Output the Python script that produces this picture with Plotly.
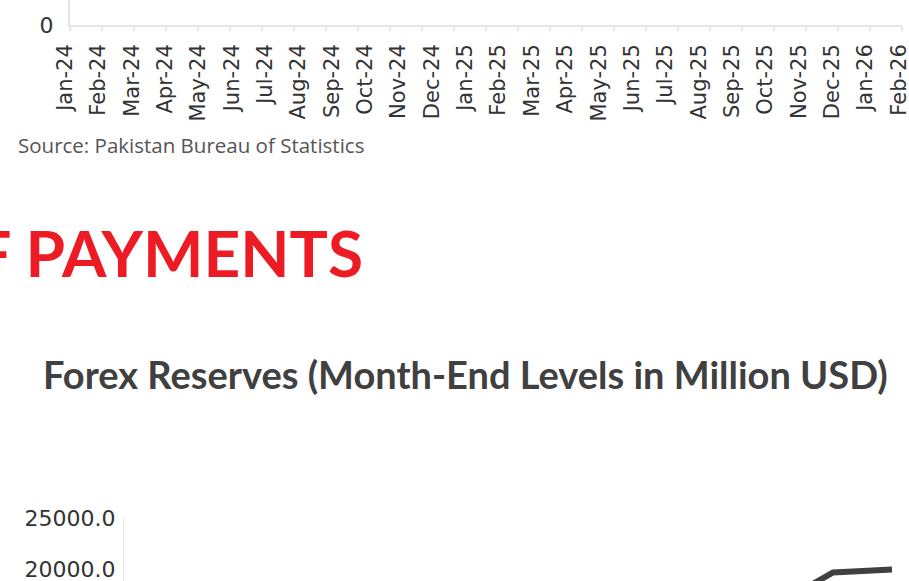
import plotly.graph_objects as go

W, H = 909, 581

months = ["Jan-24", "Feb-24", "Mar-24", "Apr-24", "May-24", "Jun-24", "Jul-24", "Aug-24",
          "Sep-24", "Oct-24", "Nov-24", "Dec-24", "Jan-25", "Feb-25", "Mar-25", "Apr-25",
          "May-25", "Jun-25", "Jul-25", "Aug-25", "Sep-25", "Oct-25", "Nov-25", "Dec-25",
          "Jan-26", "Feb-26"]

# upper chart: its values sit above the visible crop
upper_values = [None] * len(months)

# forex reserves, million USD (only the last months are inside the crop)
reserves = [None] * 22 + [18000, 19660, 19800, 19950]

reserve_ticks = [20000, 25000]


def px(p):
    return p / W


def py(p):
    return 1 - p / H


grey_line = "#e6e6e6"
label_font = dict(family="DejaVu Sans", size=21, color="#333333")
value_font = dict(family="DejaVu Sans", size=22, color="#333333")

fig = go.Figure()
fig.add_trace(go.Scatter(x=months, y=upper_values, mode="lines", xaxis="x", yaxis="y",
                         line=dict(color="#404040", width=6), hoverinfo="skip"))
fig.add_trace(go.Scatter(x=[], y=[], xaxis="x3", yaxis="y", hoverinfo="skip"))
fig.add_trace(go.Scatter(x=months, y=reserves, mode="lines", xaxis="x2", yaxis="y2",
                         line=dict(color="#404040", width=6)))

fig.update_layout(
    template="none",
    width=W, height=H,
    margin=dict(l=0, r=0, t=0, b=0, pad=0),
    paper_bgcolor="white", plot_bgcolor="rgba(0,0,0,0)",
    showlegend=False,
    # upper chart: category labels
    xaxis=dict(domain=[px(65), px(899)], type="category", categoryarray=months,
               range=[0, 25], anchor="y", showgrid=False, showline=False, zeroline=False,
               ticks="", tickangle=-90, tickfont=label_font, ticklabelstandoff=14,
               ticklabeloverflow="allow", automargin=False),
    # upper chart: baseline with tick marks between categories
    xaxis3=dict(domain=[px(70), px(902)], anchor="y", range=[0, 26],
                tickvals=list(range(27)), showticklabels=False, ticks="outside",
                ticklen=4, tickcolor=grey_line, tickwidth=2, showline=True,
                linecolor=grey_line, linewidth=2, showgrid=False, zeroline=False,
                automargin=False),
    yaxis=dict(domain=[py(25), 1], range=[0, 1], anchor="x3", tickvals=[0], ticktext=["0"],
               tickfont=value_font, showline=True, linecolor=grey_line, linewidth=2,
               showgrid=False, zeroline=False, ticks="", ticklabelstandoff=10,
               ticklabeloverflow="allow", automargin=False),
    # lower chart
    xaxis2=dict(domain=[px(124), px(902)], type="category", categoryarray=months,
                range=[-1.03, 25.34], anchor="y2", visible=False, automargin=False),
    yaxis2=dict(domain=[0, py(518)], range=[25000 - 63 * 5000 / 51, 25000], anchor="x2",
                tickvals=reserve_ticks, tickformat=".1f", tickfont=value_font,
                showline=True, linecolor=grey_line, linewidth=1, showgrid=False,
                zeroline=False, ticks="", ticklabelstandoff=3,
                ticklabeloverflow="allow", automargin=False),
)

fig.add_annotation(text="Source: Pakistan Bureau of Statistics", xref="paper", yref="paper",
                   x=px(16), y=py(145), xanchor="left", yanchor="middle", showarrow=False,
                   font=dict(family="Open Sans", size=20.5, color="#555555"))
fig.add_annotation(text="<b>BALANCE OF PAYMENTS</b>", xref="paper", yref="paper",
                   x=px(365), y=py(252), xanchor="right", yanchor="middle", showarrow=False,
                   font=dict(family="Lato", size=64, color="#ed1c24"))
fig.add_annotation(text="<b>Forex Reserves (Month-End Levels in Million USD)</b>",
                   xref="paper", yref="paper", x=px(466), y=py(374), xanchor="center",
                   yanchor="middle", showarrow=False,
                   font=dict(family="Lato", size=38, color="#404040"))

# drop the default page margin so the figure fills the window exactly
fig.write_html("out.html", config={"displayModeBar": False},
               post_script="document.body.style.margin='0';document.body.style.overflow='hidden';")
